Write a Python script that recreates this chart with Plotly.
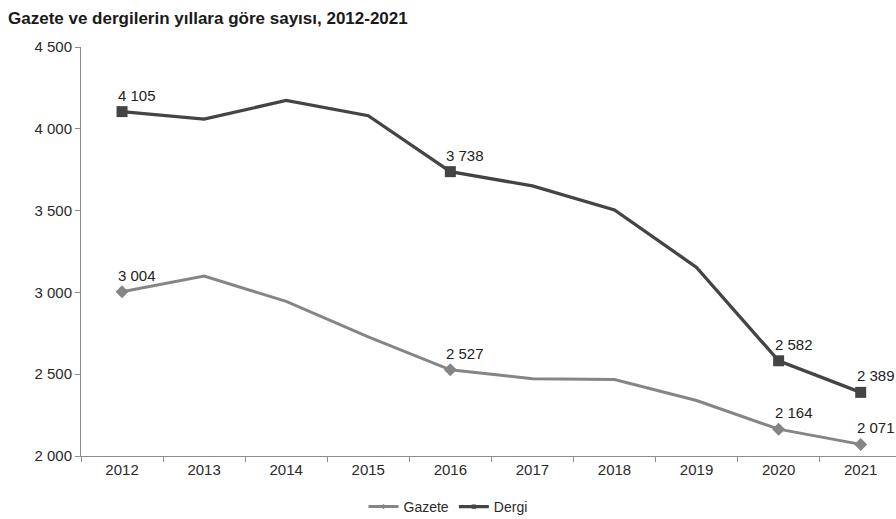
import plotly.graph_objects as go

years = ["2012", "2013", "2014", "2015", "2016", "2017", "2018", "2019", "2020", "2021"]
gazete = [3004, 3100, 2945, 2728, 2527, 2472, 2468, 2339, 2164, 2071]
dergi = [4105, 4059, 4173, 4080, 3738, 3651, 3504, 3153, 2582, 2389]
labeled_years = ["2012", "2016", "2020", "2021"]
y_ticks = [2000, 2500, 3000, 3500, 4000, 4500]

GAZ_COLOR = "#858585"
DER_COLOR = "#444444"
FONT = "Liberation Sans, Arial, sans-serif"


def fmt(v):
    return f"{v:,}".replace(",", " ")


fig = go.Figure()
fig.add_trace(go.Scatter(
    x=years, y=gazete, name="Gazete", mode="lines+markers",
    line=dict(color=GAZ_COLOR, width=3),
    marker=dict(symbol="diamond", size=[10 if y in labeled_years else 0 for y in years],
                color=GAZ_COLOR, opacity=1, line=dict(width=0)),
))
fig.add_trace(go.Scatter(
    x=years, y=dergi, name="Dergi", mode="lines+markers",
    line=dict(color=DER_COLOR, width=3.3),
    marker=dict(symbol="square", size=[11 if y in labeled_years else 0 for y in years],
                color=DER_COLOR, opacity=1, line=dict(width=0)),
))

annotations = []
for series in (gazete, dergi):
    for i, (yr, v) in enumerate(zip(years, series)):
        if yr in labeled_years:
            annotations.append(dict(
                x=i, y=v, xref="x", yref="y", text=fmt(v), showarrow=False,
                xanchor="left", yanchor="bottom", xshift=-6, yshift=6,
                font=dict(family=FONT, size=15, color="#222222"),
            ))

fig.update_layout(
    width=896, height=519,
    margin=dict(l=81, r=0, t=47, b=63, autoexpand=False),
    paper_bgcolor="white", plot_bgcolor="white",
    separators=", ",
    font=dict(family=FONT, size=15, color="#333333"),
    title=dict(
        text="<b>Gazete ve dergilerin yıllara göre sayısı, 2012-2021</b>",
        xref="container", yref="container", x=8 / 896, xanchor="left",
        y=1 - 18 / 519, yanchor="middle",
        font=dict(family=FONT, size=17, color="#1a1a1a"),
    ),
    xaxis=dict(
        type="category", range=[-0.5, 9.43], automargin=False,
        showline=True, linecolor="#8c8c8c", linewidth=1,
        ticks="outside", ticklen=5, tickcolor="#8c8c8c", tickson="boundaries",
        showgrid=False, zeroline=False,
        tickfont=dict(family=FONT, size=15, color="#2a2a2a"),
    ),
    yaxis=dict(
        range=[2000, 4500], tickvals=y_ticks, automargin=False,
        ticktext=[fmt(v) for v in y_ticks],
        showline=True, linecolor="#8c8c8c", linewidth=1,
        ticks="outside", ticklen=5, tickcolor="#8c8c8c",
        showgrid=False, zeroline=False,
        tickfont=dict(family=FONT, size=15, color="#2a2a2a"),
    ),
    legend=dict(
        orientation="h", xref="container", yref="container",
        x=0.5, xanchor="center", y=1 - 507 / 519, yanchor="middle",
        font=dict(family=FONT, size=14, color="#2a2a2a"),
        itemwidth=30, tracegroupgap=0,
    ),
    annotations=annotations,
    showlegend=True,
)

fig.write_html(
    "out.html",
    config={"displayModeBar": False},
    post_script="document.body.style.margin='0';document.body.style.overflow='hidden';",
)
